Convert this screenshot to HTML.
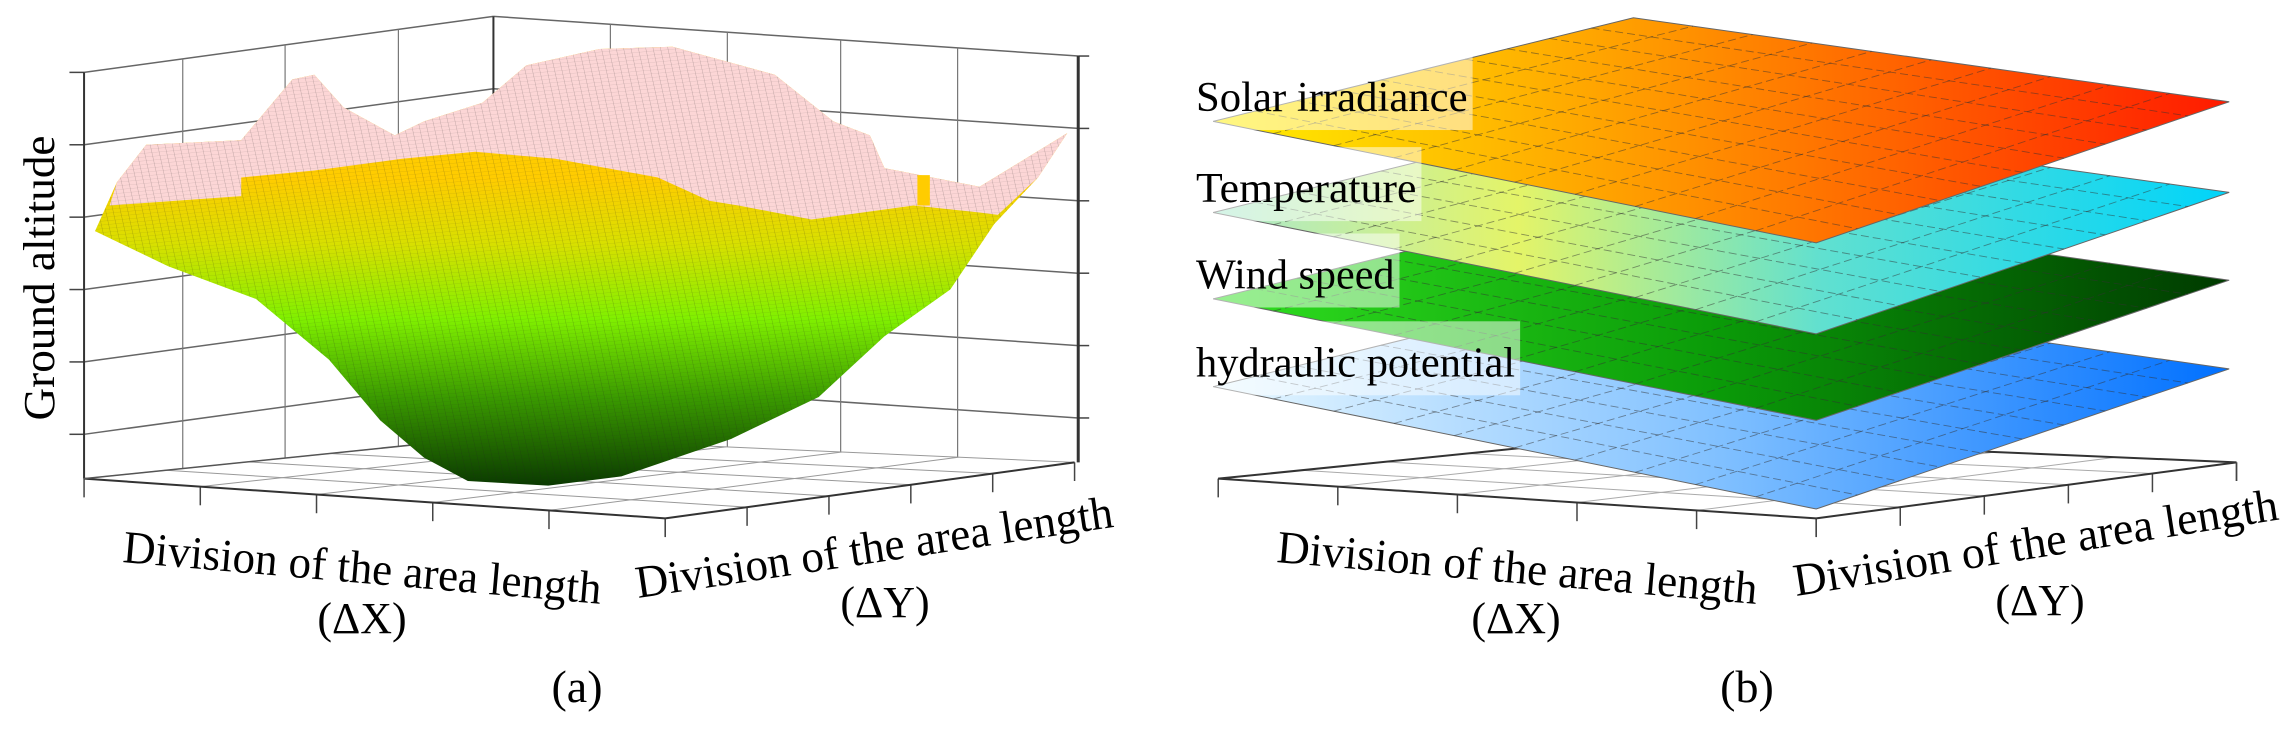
<!DOCTYPE html>
<html><head><meta charset="utf-8"><style>
html,body{margin:0;padding:0;background:#fff}
svg text{font-family:"Liberation Serif",serif;fill:#000}
</style></head><body>
<svg id="fig" width="2280" height="729" viewBox="0 0 2280 729" xmlns="http://www.w3.org/2000/svg">
<defs>
<pattern id="mesh" width="10" height="8" patternUnits="userSpaceOnUse" patternTransform="rotate(-8)">
<path d="M0 0H10M0 0V8" stroke="#222" stroke-width="0.7" opacity="0.5" fill="none"/>
</pattern>
<linearGradient id="bowl" x1="0" y1="0" x2="0" y2="1">
<stop offset="0" stop-color="#ffcc00"/>
<stop offset="0.3" stop-color="#ffcc00"/>
<stop offset="0.45" stop-color="#d8e000"/>
<stop offset="0.62" stop-color="#80f000"/>
<stop offset="0.8" stop-color="#3a9a00"/>
<stop offset="1" stop-color="#0a3a00"/>
</linearGradient>
<linearGradient id="gSolar" x1="0" y1="0" x2="1" y2="0">
<stop offset="0" stop-color="#fff000"/><stop offset="0.4" stop-color="#ffa000"/><stop offset="1" stop-color="#ff1a00"/>
</linearGradient>
<linearGradient id="gTemp" x1="0" y1="0" x2="1" y2="0">
<stop offset="0" stop-color="#a8e8d0"/><stop offset="0.3" stop-color="#e4f468"/><stop offset="0.6" stop-color="#60e0d0"/><stop offset="1" stop-color="#00d4fa"/>
</linearGradient>
<linearGradient id="gWind" x1="0" y1="0" x2="1" y2="0">
<stop offset="0" stop-color="#30e020"/><stop offset="0.5" stop-color="#0a9a08"/><stop offset="1" stop-color="#003a00"/>
</linearGradient>
<linearGradient id="gHyd" x1="0" y1="0" x2="1" y2="0">
<stop offset="0" stop-color="#e8f8ff"/><stop offset="0.5" stop-color="#80c0ff"/><stop offset="1" stop-color="#0070ff"/>
</linearGradient>
</defs>
<g id="left" transform="scale(0.731,0.467)"></g>
<g id="right" transform="translate(1140,0) scale(0.731,0.467)"></g>

<text transform="translate(54,278) rotate(-90)" text-anchor="middle" font-size="44" textLength="285" lengthAdjust="spacingAndGlyphs">Ground altitude</text>
<text transform="translate(122,562) rotate(5)" font-size="46" textLength="480" lengthAdjust="spacingAndGlyphs">Division of the area length</text>
<text x="362" y="633" text-anchor="middle" font-size="44">(ΔX)</text>
<text transform="translate(638,598) rotate(-8.5)" font-size="46" textLength="482" lengthAdjust="spacingAndGlyphs">Division of the area length</text>
<text x="885" y="617" text-anchor="middle" font-size="44">(ΔY)</text>
<text x="577" y="702" text-anchor="middle" font-size="46">(a)</text>

<text transform="translate(1276,562) rotate(5)" font-size="46" textLength="482" lengthAdjust="spacingAndGlyphs">Division of the area length</text>
<text x="1516" y="633" text-anchor="middle" font-size="44">(ΔX)</text>
<text transform="translate(1796,596) rotate(-9)" font-size="46" textLength="490" lengthAdjust="spacingAndGlyphs">Division of the area length</text>
<text x="2040" y="615" text-anchor="middle" font-size="44">(ΔY)</text>
<text x="1747" y="702" text-anchor="middle" font-size="46">(b)</text>
<g id="labels"></g>
</svg>
<script>
const NS='http://www.w3.org/2000/svg';
// Panel (a) surface outline and pink/yellow boundary (zoomed-image coords)
const surfaceOutline=[[130,495],[160,390],[200,310],[330,300],[400,170],[430,160],[470,230],[540,290],[580,260],[660,220],[720,140],[820,105],[920,100],[1060,160],[1140,260],[1190,290],[1210,360],[1340,400],[1460,285],[1420,380],[1360,480],[1300,620],[1210,720],[1120,850],[1000,940],[850,1020],[750,1040],[640,1030],[580,980],[520,900],[450,770],[350,640],[230,570]];
const pinkTop=[[150,440],[160,390],[200,310],[330,300],[400,170],[430,160],[470,230],[540,290],[580,260],[660,220],[720,140],[820,105],[920,100],[1060,160],[1140,260],[1190,290],[1210,360],[1340,400],[1460,285],[1420,380],[1365,460]];
const boundary=[[150,440],[330,420],[330,380],[430,365],[550,340],[650,325],[760,340],[900,380],[970,430],[1010,440],[1110,470],[1250,440],[1340,455],[1365,460]];
// layer stack in panel (b)
const layerNames=['hydraulic potential','Wind speed','Temperature','Solar irradiance'];
const layerFills=['gHyd','gWind','gTemp','gSolar'];
const layerLeftY=[828,640,455,260];
const layerRightY=[790,600,412,218];
const layerBottomY=[1090,900,715,520];
const labelBoxRight=[520,355,385,455];

function el(tag,attrs,parent){const e=document.createElementNS(NS,tag);for(const k in attrs)e.setAttribute(k,attrs[k]);parent.appendChild(e);return e;}
function line(p,x1,y1,x2,y2,w,c){const l=el('line',{x1,y1,x2,y2,stroke:c||'#555','stroke-width':w||2,'vector-effect':'non-scaling-stroke'},p);return l;}
const pts=a=>a.map(p=>p.join(',')).join(' ');

// ---------- panel a ----------
const L=document.getElementById('left');
const axes=el('g',{},L);


for(let k=0;k<6;k++){
  const yl=155+155*k, yb=35+155*k, yr=120+155*k;
  line(axes,115,yl,675,yb,1.5,'#666');
  line(axes,675,yb,1475,yr,1.5,'#666');
  line(axes,95,yl,115,yl,1.5,'#444');
  line(axes,1475,yr,1490,yr,1.5,'#444');
}
[250,390,545].forEach(x=>{const t=(x-115)/560;line(axes,x,155-120*t,x,1025-90*t,1.2,'#777');});
[835,995,1150,1310].forEach(x=>{const t=(x-675)/800;line(axes,x,35+85*t,x,935+55*t,1.2,'#777');});
line(axes,115,155,115,1025,2,'#333');line(axes,675,35,675,935,2,'#333');line(axes,1475,120,1475,990,3,'#333');
// floor
const FL=[115,1025],FB=[675,935],FR=[1470,990],FF=[910,1110];
for(let i=0;i<=5;i++){const t=i/5;
  const a=[FL[0]+(FF[0]-FL[0])*t,FL[1]+(FF[1]-FL[1])*t],b=[FB[0]+(FR[0]-FB[0])*t,FB[1]+(FR[1]-FB[1])*t];
  line(axes,a[0],a[1],b[0],b[1],1,'#999');line(axes,a[0],a[1],a[0],a[1]+40,1.5,'#444');
  const c=[FL[0]+(FB[0]-FL[0])*t,FL[1]+(FB[1]-FL[1])*t],d=[FF[0]+(FR[0]-FF[0])*t,FF[1]+(FR[1]-FF[1])*t];
  line(axes,c[0],c[1],d[0],d[1],1,'#999');line(axes,d[0],d[1],d[0],d[1]+40,1.5,'#444');
}
line(axes,FL[0],FL[1],FF[0],FF[1],2,'#333');line(axes,FF[0],FF[1],FR[0],FR[1],2,'#333');line(axes,FL[0],FL[1],FB[0],FB[1],1.5,'#555');
const surf=el('g',{},L);


el('polygon',{points:pts(surfaceOutline),fill:'url(#bowl)'},surf);
el('polygon',{points:pts(pinkTop.concat(boundary.slice().reverse())),fill:'#fcd6d6'},surf);
el('polygon',{points:pts(surfaceOutline),fill:'url(#mesh)'},surf);
el('polygon',{points:'1255,375 1272,375 1272,440 1255,440',fill:'#ffcc00'},surf);

// ---------- panel b ----------
const R=document.getElementById('right');
const fl=el('g',{},R);


const BL=[107,1025],BB=[675,935],BR=[1500,990],BF=[925,1110];
for(let i=0;i<=5;i++){const t=i/5;
  const a=[BL[0]+(BF[0]-BL[0])*t,BL[1]+(BF[1]-BL[1])*t],b=[BB[0]+(BR[0]-BB[0])*t,BB[1]+(BR[1]-BB[1])*t];
  line(fl,a[0],a[1],b[0],b[1],1,'#aaa');line(fl,a[0],a[1],a[0],a[1]+40,1.5,'#444');
  const c=[BL[0]+(BB[0]-BL[0])*t,BL[1]+(BB[1]-BL[1])*t],d=[BF[0]+(BR[0]-BF[0])*t,BF[1]+(BR[1]-BF[1])*t];
  line(fl,c[0],c[1],d[0],d[1],1,'#aaa');line(fl,d[0],d[1],d[0],d[1]+40,1.5,'#444');
}
line(fl,BL[0],BL[1],BF[0],BF[1],2,'#333');line(fl,BF[0],BF[1],BR[0],BR[1],2,'#333');line(fl,BL[0],BL[1],BB[0],BB[1],2,'#333');line(fl,BB[0],BB[1],BR[0],BR[1],2,'#333');line(fl,BR[0],BR[1],BR[0],BR[1]+40,1.5,'#444');

const labels=document.getElementById('labels');
for(let i=0;i<4;i++){
  const l=[100,layerLeftY[i]],r=[1490,layerRightY[i]],b=[925,layerBottomY[i]];
  const t=[675,layerLeftY[i]-222];
  const g=el('g',{},R);
  
  
  el('polygon',{points:pts([l,t,r,b]),fill:'url(#'+layerFills[i]+')',stroke:'#666','stroke-width':1,'vector-effect':'non-scaling-stroke'},g);
  for(let k=1;k<10;k++){const s=k/10;
    line(g,l[0]+(t[0]-l[0])*s,l[1]+(t[1]-l[1])*s,b[0]+(r[0]-b[0])*s,b[1]+(r[1]-b[1])*s,0.9,'rgba(50,50,50,0.5)').setAttribute('stroke-dasharray','8 4');
    line(g,l[0]+(b[0]-l[0])*s,l[1]+(b[1]-l[1])*s,t[0]+(r[0]-t[0])*s,t[1]+(r[1]-t[1])*s,0.9,'rgba(50,50,50,0.5)').setAttribute('stroke-dasharray','8 4');
  }
  const y0=(layerLeftY[i]-140)*0.467;
  const box=el('rect',{x:1190,y:y0,width:1140+labelBoxRight[i]*0.731-1190,height:74,fill:'rgba(255,255,255,0.5)'},labels);
  
  
  const tx=el('text',{x:1196,y:y0+55,'font-size':42,textLength:(labelBoxRight[i]-78)*0.731-4,lengthAdjust:'spacingAndGlyphs'},labels);
  
  
  tx.textContent=layerNames[i];
}
</script>
</body></html>
